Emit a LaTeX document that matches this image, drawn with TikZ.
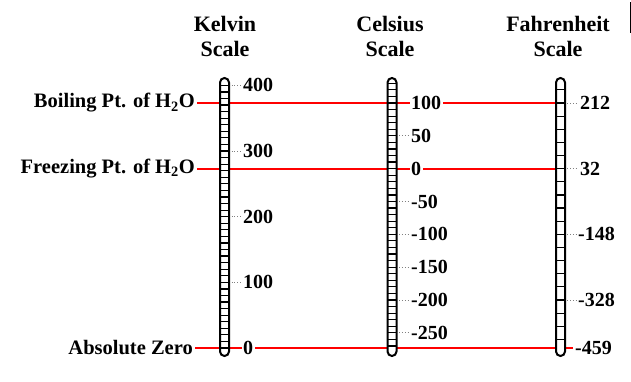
\documentclass[tikz,border=0pt]{standalone}
\usepackage{fontspec}
\setmainfont{Liberation Serif}
\begin{document}
\begin{tikzpicture}[x=1pt,y=-1pt,
  lbl/.style={font=\bfseries\fontsize{20.5}{20.5}\selectfont, inner sep=0pt},
  hdr/.style={font=\bfseries\fontsize{22}{25}\selectfont, align=center, inner sep=0pt},
  num/.style={font=\bfseries\fontsize{20}{20}\selectfont, inner sep=0pt, anchor=west},
  onred/.style={fill=white, inner xsep=1.5pt},
  redline/.style={draw=red, line width=2pt},
  tube/.style={draw=black, fill=white, line width=2pt, rounded corners=4.5pt},
  rung/.style={draw=black, line width=1.2pt},
  leader/.style={draw=gray, dotted, line width=0.9pt}]
\useasboundingbox (0,0) rectangle (631,382);
\def\Ky#1{348-0.65657*(#1)}
% headers
\node[hdr] (hk) at (225,36) {Kelvin\\Scale};
\node[hdr] (hc) at (390,36) {Celsius\\Scale};
\node[hdr] (hf) at (558,36) {Fahrenheit\\Scale};
% left labels
\node[lbl, anchor=east] (boil) at (195,103) {Boiling Pt. of H\textsubscript{2}O};
\node[lbl, anchor=east] (freeze) at (195,168.7) {Freezing Pt. of H\textsubscript{2}O};
\node[lbl, anchor=east] (abs) at (193,348) {Absolute Zero};
% tube edge coordinates
\coordinate (ftubeL) at (555,103);
\coordinate (ftubeL2) at (555,168.7);
\coordinate (fzeroR) at (573,348);
% red lines
\draw[redline] ([xshift=2pt]boil.east) -- (ftubeL);
\draw[redline] ([xshift=2pt]freeze.east) -- (ftubeL2);
\draw[redline] ([xshift=2pt]abs.east) -- (fzeroR);
% tubes
\draw[tube] (220,78) rectangle (229,356);
\draw[tube] (387.5,78) rectangle (396.5,356);
\draw[tube] (556,78) rectangle (565,356);
% rungs
\foreach \k in {0,10,...,400} \draw[rung] (220,{\Ky{\k}}) -- (229,{\Ky{\k}});
\foreach \c in {-270,-260,...,130} \draw[rung] (387.5,{\Ky{\c+273.15}}) -- (396.5,{\Ky{\c+273.15}});
\foreach \f in {248,212,...,-436} \draw[rung] (556,{\Ky{(\f+459.67)*5/9}}) -- (565,{\Ky{(\f+459.67)*5/9}});
% Kelvin labels
\foreach \v/\nm in {400/k400,300/k300,200/k200,100/k100} {
  \node[num] (\nm) at (243,{\Ky{\v}}) {\v};
  \draw[leader] (231.5,{\Ky{\v}}) -- ([xshift=-1.5pt]\nm.west);
}
\node[num, onred] (k0) at (241.5,348) {0};
% Celsius labels
\node[num, onred] (c100) at (409.5,103) {100};
\node[num, onred] (c0) at (409.5,168.7) {0};
\foreach \v/\nm in {50/c50,-50/cm50,-100/cm100,-150/cm150,-200/cm200,-250/cm250} {
  \node[num] (\nm) at (411,{\Ky{\v+273.15}}) {\v};
  \draw[leader] (399,{\Ky{\v+273.15}}) -- ([xshift=-1.5pt]\nm.west);
}
% Fahrenheit labels
\foreach \v/\nm/\xx in {212/f212/580,32/f32/580,-148/fm148/578,-328/fm328/578} {
  \node[num] (\nm) at (\xx,{\Ky{(\v+459.67)*5/9}}) {\v};
  \draw[leader] (567,{\Ky{(\v+459.67)*5/9}}) -- ([xshift=-1.5pt]\nm.west);
}
\node[num] (fm459) at (575,348) {-459};
% corner mark
\fill (629.5,2) rectangle (631,33);
\end{tikzpicture}
\end{document}
